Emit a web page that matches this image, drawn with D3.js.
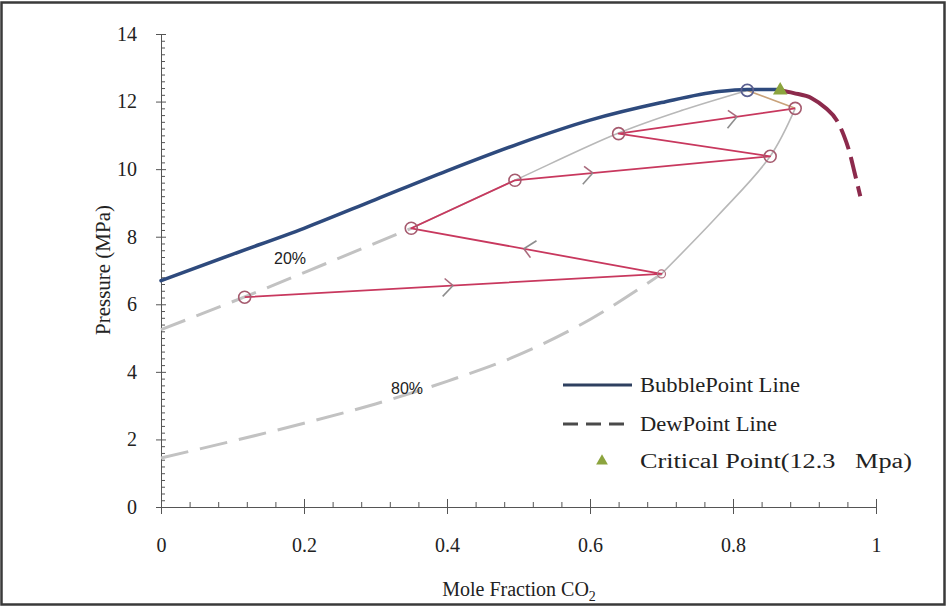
<!DOCTYPE html>
<html>
<head>
<meta charset="utf-8">
<script src="https://cdn.jsdelivr.net/npm/d3@7"></script>
<style>
  html, body { margin: 0; padding: 0; background: #fff; }
  svg { display: block; }
</style>
</head>
<body>
<svg id="chart" width="947" height="607"></svg>
<script>
// Phase envelope: mole fraction CO2 vs pressure (MPa)
const bubbleX = [0, 0.1, 0.2, 0.3, 0.4, 0.5, 0.6, 0.7, 0.78, 0.82, 0.863];
const bubbleP = [6.7, 7.48, 8.25, 9.1, 9.95, 10.75, 11.45, 11.97, 12.3, 12.36, 12.36];

const dewX = [0.863, 0.885, 0.91, 0.93, 0.945, 0.955, 0.963, 0.97, 0.978];
const dewP = [12.34, 12.25, 12.1, 11.8, 11.45, 11.0, 10.5, 9.9, 9.2];

// Critical point
const criticalX = 0.866;
const criticalP = 12.3;

// 20% quality line: extrapolated (dashed) and computed (solid) parts
const q20DashX = [0, 0.117, 0.23, 0.35];
const q20DashP = [5.25, 6.22, 7.2, 8.25];
const q20SolidX = [0.35, 0.495, 0.64, 0.73, 0.82];
const q20SolidP = [8.25, 9.67, 11.07, 11.75, 12.33];

// 80% quality line
const q80DashX = [0, 0.1, 0.2, 0.3, 0.4, 0.5, 0.6, 0.7];
const q80DashP = [1.45, 1.95, 2.48, 3.05, 3.72, 4.5, 5.55, 6.9];
const q80SolidX = [0.7, 0.78, 0.852, 0.887];
const q80SolidP = [6.9, 8.65, 10.38, 11.8];

// Process path (contacts) in visiting order
const pathX = [0.117, 0.70, 0.35, 0.495, 0.852, 0.64, 0.887];
const pathP = [6.21, 6.9, 8.25, 9.67, 10.38, 11.05, 11.8];
// Segment index and fraction along it where a direction arrow sits
const arrowSeg = [0, 1, 3, 5];
const arrowAt = [0.5, 0.55, 0.305, 0.67];

// Tie between the last contact and the bubble curve
const tieX = [0.82, 0.887];
const tieP = [12.33, 11.8];

const xTicks = [0, 0.2, 0.4, 0.6, 0.8, 1];
const xTickLabels = ["0", "0.2", "0.4", "0.6", "0.8", "1"];
const yTicks = [0, 2, 4, 6, 8, 10, 12, 14];

const legendLabels = ["BubblePoint Line", "DewPoint Line", "Critical Point(12.3\u00a0\u00a0\u00a0Mpa)"];
const qualityLabels = ["20%", "80%"];

const SERIF = "'Liberation Serif', 'DejaVu Serif', serif";
const SANS = "'Liberation Sans', 'DejaVu Sans', sans-serif";

const svg = d3.select("#chart");
const W = 947, H = 607;

// Outer frame
svg.append("rect").attr("x", 1.5).attr("y", 2.5).attr("width", W - 4).attr("height", H - 5)
  .attr("fill", "#fff").attr("stroke", "#3a3a3a").attr("stroke-width", 2.5);

const x = d3.scaleLinear().domain([0, 1]).range([161, 876]);
const y = d3.scaleLinear().domain([0, 14]).range([507, 34]);

const zip = (xs, ps) => xs.map((v, i) => [v, ps[i]]);
const line = d3.line().x(d => x(d[0])).y(d => y(d[1])).curve(d3.curveMonotoneX);
const smooth = d3.line().x(d => x(d[0])).y(d => y(d[1])).curve(d3.curveCatmullRom.alpha(0.5));
const straight = d3.line().x(d => x(d[0])).y(d => y(d[1]));

// Axes
const axisColor = "#555";
const gy = svg.append("g").attr("transform", `translate(${x(0)},0)`);
gy.call(d3.axisLeft(y).tickValues(yTicks).tickSize(5).tickPadding(19).tickFormat(d3.format("d")));
const gyMinor = svg.append("g").attr("transform", `translate(${x(0)},0)`);
gyMinor.call(d3.axisRight(y).tickValues(d3.range(0, 14.01, 0.2)).tickSize(4).tickFormat(""));
gyMinor.selectAll(".tick").filter(d => Math.abs(d - Math.round(d / 2) * 2) < 1e-6)
  .select("line").attr("x2", 5);

const gx = svg.append("g").attr("transform", `translate(0,${y(0)})`);
gx.call(d3.axisBottom(x).tickValues(xTicks).tickSize(7).tickPadding(24)
  .tickFormat((d, i) => xTickLabels[i]));
const gxMinor = svg.append("g").attr("transform", `translate(0,${y(0)})`);
gxMinor.call(d3.axisTop(x).tickValues(d3.range(0, 1.0001, 0.04)).tickSize(5).tickFormat(""));
gxMinor.selectAll(".tick").filter(d => Math.abs(d * 5 - Math.round(d * 5)) < 1e-6)
  .select("line").attr("y2", -8);

[gy, gyMinor, gx, gxMinor].forEach(g => {
  g.attr("font-family", SERIF).attr("font-size", 20);
  g.selectAll("path, line").attr("stroke", axisColor).attr("stroke-width", 1);
  g.selectAll("text").attr("fill", "#222");
});
gyMinor.select(".domain").remove();
gxMinor.select(".domain").remove();

// Axis titles
svg.append("text")
  .attr("transform", `translate(${110},${270}) rotate(-90)`)
  .attr("text-anchor", "middle").attr("font-family", SERIF).attr("font-size", 21)
  .attr("fill", "#222").text("Pressure (MPa)");
const xt = svg.append("text").attr("x", 519).attr("y", 596)
  .attr("text-anchor", "middle").attr("font-family", SERIF).attr("font-size", 20).attr("fill", "#222");
xt.append("tspan").text("Mole Fraction CO");
xt.append("tspan").attr("dy", 5).attr("font-size", 14).text("2");

// Quality lines
const gray = "#c2c2c2";
svg.append("path").attr("d", line(zip(q20DashX, q20DashP)))
  .attr("fill", "none").attr("stroke", gray).attr("stroke-width", 3)
  .attr("stroke-dasharray", "26,12");
svg.append("path").attr("d", smooth(zip(q20SolidX, q20SolidP)))
  .attr("fill", "none").attr("stroke", "#b8b8b8").attr("stroke-width", 1.6);
svg.append("path").attr("d", line(zip(q80DashX, q80DashP)))
  .attr("fill", "none").attr("stroke", gray).attr("stroke-width", 3)
  .attr("stroke-dasharray", "28,12");
svg.append("path").attr("d", smooth(zip(q80SolidX, q80SolidP)))
  .attr("fill", "none").attr("stroke", "#b8b8b8").attr("stroke-width", 1.6);

// Tie line
svg.append("path").attr("d", straight(zip(tieX, tieP)))
  .attr("fill", "none").attr("stroke", "#c9a27a").attr("stroke-width", 1.6);

// Bubble point line
svg.append("path").attr("d", line(zip(bubbleX, bubbleP)))
  .attr("fill", "none").attr("stroke", "#2e4a7d").attr("stroke-width", 3.5)
  .attr("stroke-linecap", "round");

// Dew point line
svg.append("path").attr("d", line(zip(dewX, dewP)))
  .attr("fill", "none").attr("stroke", "#8c2a4c").attr("stroke-width", 4)
  .attr("stroke-dasharray", "70,8,22,8,22,8,22,8");

// Process path
const pts = zip(pathX, pathP);
svg.append("path").attr("d", straight(pts))
  .attr("fill", "none").attr("stroke", "#c8385e").attr("stroke-width", 1.8)
  .attr("stroke-linejoin", "round");

// Direction arrows
arrowSeg.forEach((s, i) => {
  const a = pts[s], b = pts[s + 1];
  const t = arrowAt[i];
  const px = x(a[0]) + (x(b[0]) - x(a[0])) * t;
  const py = y(a[1]) + (y(b[1]) - y(a[1])) * t;
  const ang = Math.atan2(y(b[1]) - y(a[1]), x(b[0]) - x(a[0]));
  const spread = 0.75;
  const a1 = ang + Math.PI - spread, a2 = ang + Math.PI + spread;
  svg.append("line").attr("x1", px).attr("y1", py)
    .attr("x2", px + 11 * Math.cos(a2)).attr("y2", py + 11 * Math.sin(a2))
    .attr("stroke", "#a96a7c").attr("stroke-width", 1.6);
  svg.append("line").attr("x1", px).attr("y1", py)
    .attr("x2", px + 15 * Math.cos(a1)).attr("y2", py + 15 * Math.sin(a1))
    .attr("stroke", "#8d8d8d").attr("stroke-width", 1.6);
});

// Contact markers
svg.selectAll("circle.contact").data(pts.filter((d, i) => i !== 1)).join("circle")
  .attr("class", "contact")
  .attr("cx", d => x(d[0])).attr("cy", d => y(d[1])).attr("r", 6)
  .attr("fill", "none").attr("stroke", "#a55a6e").attr("stroke-width", 1.6);
svg.append("circle").attr("cx", x(pathX[1])).attr("cy", y(pathP[1])).attr("r", 4)
  .attr("fill", "none").attr("stroke", "#b07080").attr("stroke-width", 1.2);
svg.append("circle").attr("cx", x(tieX[0])).attr("cy", y(tieP[0])).attr("r", 6)
  .attr("fill", "none").attr("stroke", "#5a5f90").attr("stroke-width", 1.8);

// Critical point marker
const tri = d3.symbol().type(d3.symbolTriangle).size(90);
svg.append("path").attr("d", tri())
  .attr("transform", `translate(${x(criticalX)},${y(criticalP) - 1})`)
  .attr("fill", "#8ca43e");

// Quality labels
svg.append("text").attr("x", 290).attr("y", 264).attr("text-anchor", "middle")
  .attr("font-family", SANS).attr("font-size", 16).attr("fill", "#222").text(qualityLabels[0]);
svg.append("text").attr("x", 407).attr("y", 394).attr("text-anchor", "middle")
  .attr("font-family", SANS).attr("font-size", 16).attr("fill", "#222").text(qualityLabels[1]);

// Legend
const lg = svg.append("g");
lg.append("line").attr("x1", 563).attr("x2", 632).attr("y1", 385).attr("y2", 385)
  .attr("stroke", "#2e4060").attr("stroke-width", 3);
lg.append("line").attr("x1", 563).attr("x2", 632).attr("y1", 424).attr("y2", 424)
  .attr("stroke", "#4a4a4a").attr("stroke-width", 3).attr("stroke-dasharray", "15,8");
lg.append("path").attr("d", d3.symbol().type(d3.symbolTriangle).size(60)())
  .attr("transform", "translate(602,461)").attr("fill", "#8ca43e");
const legendWidths = [160, 137, 272];
legendLabels.forEach((t, i) => {
  lg.append("text").attr("x", 640).attr("y", [392, 431, 468][i])
    .attr("font-family", SERIF).attr("font-size", 20).attr("fill", "#222")
    .attr("textLength", legendWidths[i]).attr("lengthAdjust", "spacingAndGlyphs")
    .text(t);
});
</script>
</body>
</html>
